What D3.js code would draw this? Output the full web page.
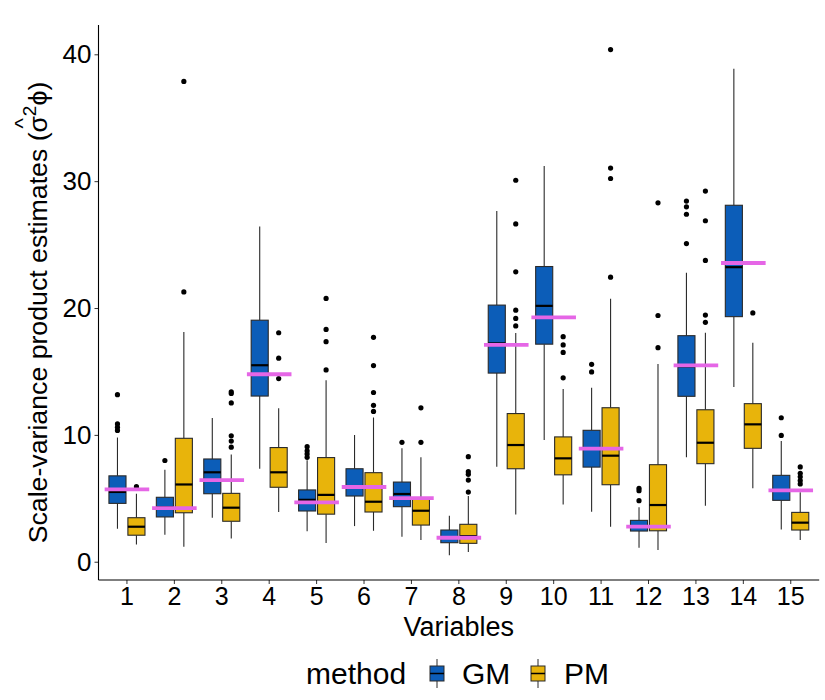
<!DOCTYPE html>
<html>
<head>
<meta charset="utf-8">
<script src="https://cdn.jsdelivr.net/npm/d3@7"></script>
<style>
  body { margin: 0; background: #fff; }
  text { font-family: "Liberation Sans", Arial, sans-serif; }
</style>
</head>
<body>
<div id="my_dataviz"></div>
<script>

// variables on the x axis
const variables = ["1", "2", "3", "4", "5", "6", "7", "8", "9", "10", "11", "12", "13", "14", "15"];
const methods = ["GM", "PM"];
const yTicks = [0, 10, 20, 30, 40];

// GM box statistics, one value per variable
const gmLow = [2.60, 2.12, 3.47, 7.33, 2.40, 2.81, 1.97, 0.51, 7.48, 9.59, 3.94, 1.10, 8.23, 13.77, 2.55];
const gmQ1 = [4.60, 3.53, 5.36, 13.06, 4.00, 5.18, 4.34, 1.50, 14.87, 17.15, 7.46, 2.42, 13.04, 19.32, 4.84];
const gmMedian = [5.50, 4.30, 7.05, 15.49, 4.88, 5.90, 5.34, 1.92, 17.21, 20.17, 8.90, 2.75, 15.40, 23.22, 5.60];
const gmQ3 = [6.77, 5.08, 8.10, 19.04, 5.66, 7.33, 6.28, 2.50, 20.23, 23.27, 10.36, 3.26, 17.82, 28.10, 6.81];
const gmHigh = [9.79, 7.25, 11.34, 26.43, 8.00, 9.99, 8.94, 3.63, 27.64, 31.20, 13.72, 4.29, 22.79, 38.87, 9.51];
const gmOutliers = [
  [10.35, 10.6, 10.86, 13.17], [7.98], [], [], [8.23, 8.5, 8.75, 9.07],
  [], [9.41], [], [], [],
  [14.96, 15.56], [4.81, 5.6, 5.79], [25.08, 27.39, 27.98, 28.43], [], [9.96, 11.35]
];

// PM box statistics
const pmLow = [1.35, 1.18, 1.83, 3.92, 1.47, 2.44, 1.71, 0.76, 3.72, 4.51, 2.76, 0.92, 4.41, 5.79, 1.71];
const pmQ1 = [2.09, 3.86, 3.19, 5.87, 3.75, 3.92, 2.89, 1.45, 7.33, 6.85, 6.07, 2.44, 7.73, 8.94, 2.50];
const pmMedian = [2.76, 6.09, 4.26, 7.05, 5.27, 4.73, 4.02, 2.02, 9.20, 8.15, 8.36, 4.47, 9.38, 10.83, 3.08];
const pmQ3 = [3.47, 9.73, 5.39, 9.00, 8.21, 7.02, 4.94, 2.95, 11.68, 9.84, 12.14, 7.65, 11.98, 12.46, 3.89];
const pmHigh = [5.36, 18.11, 8.46, 12.10, 14.30, 11.37, 8.23, 5.18, 18.03, 13.62, 20.73, 15.58, 18.05, 17.26, 5.47];
const pmOutliers = [
  [5.92], [21.27, 37.86], [9.03, 9.51, 9.93, 12.52, 13.26, 13.40], [14.44, 16.05, 18.05], [15.12, 17.35, 18.31, 20.76],
  [11.85, 12.33, 13.34, 15.46, 17.69], [9.41, 12.13], [5.49, 6.44, 6.89, 7.1, 8.28], [18.59, 19.18, 19.83, 22.85, 26.63, 30.07], [14.50, 16.50, 17.09, 17.74],
  [22.43, 30.21, 31.03, 40.37], [16.87, 19.41, 28.29], [18.87, 19.44, 23.75, 26.88, 29.22], [19.61], [6.13, 6.4, 6.7, 6.97, 7.47]
];

// reference value drawn as a magenta bar across each variable
const refValues = [5.70, 4.23, 6.43, 14.78, 4.68, 5.89, 5.02, 1.89, 17.09, 19.27, 8.91, 2.76, 15.48, 23.55, 5.63];

const width = 825;
const height = 700;

const panel = { left: 98.5, right: 819.2, top: 25, bottom: 580 };

const fillColour = d3.scaleOrdinal()
  .domain(methods)
  .range(["#0C5DB8", "#E8B40B"]);

const refColour = "#E566E6";
const lineColour = "#2a2a2a";

// build one row per box from the arrays above
const boxes = [];
variables.forEach((v, i) => {
  boxes.push({ variable: v, method: "GM", low: gmLow[i], q1: gmQ1[i], median: gmMedian[i], q3: gmQ3[i], high: gmHigh[i], outliers: gmOutliers[i] });
  boxes.push({ variable: v, method: "PM", low: pmLow[i], q1: pmQ1[i], median: pmMedian[i], q3: pmQ3[i], high: pmHigh[i], outliers: pmOutliers[i] });
});

const svg = d3.select("#my_dataviz")
  .append("svg")
  .attr("width", width)
  .attr("height", height);

// scales
const x = d3.scaleBand()
  .domain(variables)
  .range([panel.left, panel.right])
  .paddingInner(0)
  .paddingOuter(0.1);

// dodge the two methods inside each variable
const xMethod = d3.scaleOrdinal()
  .domain(methods)
  .range([-0.2, 0.2]);

const y = d3.scaleLinear()
  .domain([-1.44, 42.31])
  .range([panel.bottom, panel.top]);

const step = x.bandwidth();
const boxWidth = step * 0.36;
const centre = d => x(d.variable) + step / 2 + xMethod(d.method) * step;

// axes
const yAxis = svg.append("g")
  .attr("transform", `translate(${panel.left},0)`)
  .call(d3.axisLeft(y).tickValues(yTicks).tickSize(4).tickSizeOuter(0).tickPadding(3));

yAxis.select(".domain").remove();
yAxis.selectAll(".tick line").attr("stroke", "#333");
yAxis.selectAll(".tick text")
  .attr("fill", "#000")
  .style("font-size", "26px");

const xAxis = svg.append("g")
  .attr("transform", `translate(0,${panel.bottom})`)
  .call(d3.axisBottom(x).tickSize(4).tickSizeOuter(0).tickPadding(3));

xAxis.select(".domain").remove();
xAxis.selectAll(".tick line").attr("stroke", "#333");
xAxis.selectAll(".tick text")
  .attr("fill", "#000")
  .style("font-size", "25px");

// axis lines
svg.append("line")
  .attr("x1", panel.left).attr("x2", panel.left)
  .attr("y1", panel.top).attr("y2", panel.bottom)
  .attr("stroke", "#000").attr("stroke-width", 1.1);

svg.append("line")
  .attr("x1", panel.left).attr("x2", panel.right)
  .attr("y1", panel.bottom).attr("y2", panel.bottom)
  .attr("stroke", "#000").attr("stroke-width", 1.1);

// boxplots
const groups = svg.append("g")
  .selectAll(".box")
  .data(boxes)
  .enter()
  .append("g")
  .classed("box", true);

// whiskers
groups.append("line")
  .attr("x1", centre).attr("x2", centre)
  .attr("y1", d => y(d.q3)).attr("y2", d => y(d.high))
  .attr("stroke", lineColour).attr("stroke-width", 1.1);

groups.append("line")
  .attr("x1", centre).attr("x2", centre)
  .attr("y1", d => y(d.q1)).attr("y2", d => y(d.low))
  .attr("stroke", lineColour).attr("stroke-width", 1.1);

groups.append("rect")
  .attr("x", d => centre(d) - boxWidth / 2)
  .attr("width", boxWidth)
  .attr("y", d => y(d.q3))
  .attr("height", d => y(d.q1) - y(d.q3))
  .attr("fill", d => fillColour(d.method))
  .attr("stroke", lineColour)
  .attr("stroke-width", 1.1);

groups.append("line")
  .attr("x1", d => centre(d) - boxWidth / 2)
  .attr("x2", d => centre(d) + boxWidth / 2)
  .attr("y1", d => y(d.median)).attr("y2", d => y(d.median))
  .attr("stroke", "#000").attr("stroke-width", 2.2);

// outliers
groups.selectAll(".outlier")
  .data(d => d.outliers.map(v => ({ value: v, box: d })))
  .enter()
  .append("circle")
  .classed("outlier", true)
  .attr("cx", d => centre(d.box))
  .attr("cy", d => y(d.value))
  .attr("r", 2.6)
  .attr("fill", "#000");

// magenta reference bars on top
svg.append("g")
  .selectAll("line")
  .data(refValues)
  .enter()
  .append("line")
  .attr("x1", (d, i) => x(variables[i]) + step * 0.03)
  .attr("x2", (d, i) => x(variables[i]) + step * 0.97)
  .attr("y1", d => y(d)).attr("y2", d => y(d))
  .attr("stroke", refColour)
  .attr("stroke-width", 3.8);

// axis titles
svg.append("text")
  .attr("x", (panel.left + panel.right) / 2)
  .attr("y", 636)
  .attr("text-anchor", "middle")
  .style("font-size", "27px")
  .text("Variables");

const yTitle = svg.append("text")
  .attr("transform", `translate(47,${(panel.top + panel.bottom) / 2 + 10}) rotate(-90)`)
  .attr("text-anchor", "middle")
  .style("font-size", "26.7px");

yTitle.append("tspan").text("Scale-variance product estimates (σ");
// hat over sigma, then the superscript 2
yTitle.append("tspan").attr("dx", -12.5).attr("dy", -17).style("font-size", "22px").text("^");
yTitle.append("tspan").attr("dx", 2).attr("dy", 6).style("font-size", "19px").text("2");
yTitle.append("tspan").attr("dy", 11).text("ϕ)");

// legend
const legend = svg.append("g");

legend.append("text")
  .attr("x", 306)
  .attr("y", 684)
  .style("font-size", "30px")
  .text("method");

const legendItems = [
  { method: "GM", keyX: 437, textX: 462 },
  { method: "PM", keyX: 538, textX: 564 }
];

const keys = legend.selectAll(".key")
  .data(legendItems)
  .enter()
  .append("g")
  .classed("key", true);

keys.append("line")
  .attr("x1", d => d.keyX).attr("x2", d => d.keyX)
  .attr("y1", 659).attr("y2", 688)
  .attr("stroke", lineColour).attr("stroke-width", 1);

keys.append("rect")
  .attr("x", d => d.keyX - 7)
  .attr("y", 666)
  .attr("width", 14)
  .attr("height", 15)
  .attr("fill", d => fillColour(d.method))
  .attr("stroke", lineColour)
  .attr("stroke-width", 1);

keys.append("line")
  .attr("x1", d => d.keyX - 7).attr("x2", d => d.keyX + 7)
  .attr("y1", 673.5).attr("y2", 673.5)
  .attr("stroke", "#000").attr("stroke-width", 1.5);

keys.append("text")
  .attr("x", d => d.textX)
  .attr("y", 684)
  .style("font-size", "30px")
  .text(d => d.method);

</script>
</body>
</html>
